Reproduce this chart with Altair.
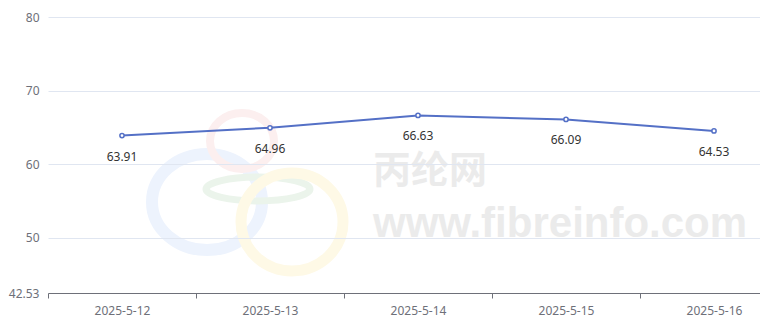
import altair as alt
import pandas as pd

dates = ["2025-5-12", "2025-5-13", "2025-5-14", "2025-5-15", "2025-5-16"]
values = [63.91, 64.96, 66.63, 66.09, 64.53]
y_ticks = [42.53, 50, 60, 70, 80]

df = pd.DataFrame({"date": dates, "value": values})

FONT = "Noto Sans"
LINE = "#5470c6"

x_enc = alt.X(
    "date:N",
    sort=dates,
    scale=alt.Scale(type="band", paddingInner=0, paddingOuter=0, range=[0, 740]),
    axis=alt.Axis(
        title=None,
        labelAngle=0,
        tickBand="extent",
        domainColor="#6e7079",
        tickColor="#6e7079",
        tickSize=5,
        labelColor="#6e7079",
        labelFont=FONT,
        labelFontSize=12,
        labelPadding=7,
        grid=False,
        zindex=1,
    ),
)
y_enc = alt.Y(
    "value:Q",
    scale=alt.Scale(domain=[42.53, 80], nice=False, zero=False),
    axis=alt.Axis(
        title=None,
        values=y_ticks,
        format=".4~g",
        domain=False,
        ticks=False,
        labelColor="#6e7079",
        labelFont=FONT,
        labelFontSize=12,
        labelPadding=9,
        gridColor="#e0e6f1",
        gridWidth=1,
        zindex=1,
    ),
)

# watermark (decorative)
ell = lambda r: f"M -1 0 A 1 {r} 0 1 0 1 0 A 1 {r} 0 1 0 -1 0 Z"
ring_names = ["blue", "red", "green", "yellow"]
ring_df = pd.DataFrame({"ring": ring_names})

def ring(name, cx, cy, rx, ratio, sw, color):
    return alt.Chart(ring_df).transform_filter(alt.datum.ring == name).mark_point(
        shape=ell(ratio), filled=False, stroke=color, strokeWidth=sw,
        size=(2 * rx) ** 2, opacity=1,
    ).encode(x=alt.value(cx), y=alt.value(cy))

rings = [
    ring("blue", 159, 185, 55, 0.873, 12, "#edf3fd"),
    ring("red", 194, 124, 32, 0.875, 8, "#fcefef"),
    ring("green", 210, 172, 52, 0.23, 7, "#ebf4eb"),
    ring("yellow", 244, 205, 51, 0.96, 11, "#fef9e6"),
]

wm_df = pd.DataFrame({"t": ["丙纶网", "www.fibreinfo.com"]})
wm1 = alt.Chart(wm_df).transform_filter(alt.datum.t == "丙纶网").mark_text(
    align="left", baseline="middle", font="Noto Sans CJK SC", fontWeight="bold",
    fontSize=38, color="#ebebeb",
).encode(text="t:N", x=alt.value(325), y=alt.value(155))
wm2 = alt.Chart(wm_df).transform_filter(alt.datum.t == "www.fibreinfo.com").mark_text(
    align="left", baseline="middle", font="Liberation Sans", fontWeight="bold",
    fontSize=42, color="#ebebeb",
).encode(text="t:N", x=alt.value(325), y=alt.value(207))

base = alt.Chart(df).encode(x=x_enc, y=y_enc)
line = base.mark_line(color=LINE, strokeWidth=2).encode()
pts = base.mark_point(
    shape="circle", filled=True, fill="white", stroke=LINE, strokeWidth=1.5, size=18, opacity=1
)
labels = base.mark_text(
    dy=21, baseline="middle", align="center", font=FONT, fontSize=12, color="#333333"
).encode(text=alt.Text("value:Q", format=".2f"))

chart = alt.layer(*rings, wm1, wm2, line, pts, labels).properties(
    width=712,
    height=276,
    autosize=alt.AutoSizeParams(type="none"),
    padding={"left": 48, "top": 17, "right": 0, "bottom": 36},
    background="white",
).configure_view(stroke=None)

chart.save("out.html", embed_options={"renderer": "svg", "actions": False})
